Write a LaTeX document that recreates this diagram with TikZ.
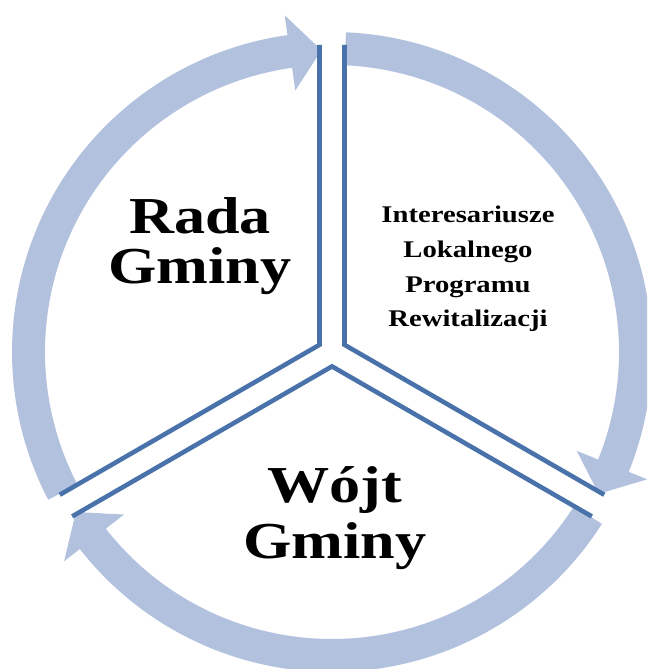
\documentclass[tikz,border=0pt]{standalone}
\usepackage{fontspec}
\setmainfont[FakeStretch=1.2]{Liberation Serif}
\usetikzlibrary{calc}
\definecolor{RingBlue}{HTML}{B2C1DD}
\definecolor{EdgeBlue}{HTML}{4A72AA}

\begin{document}
\begin{tikzpicture}[x=0.02cm, y=0.02cm,
    ring/.style={fill=RingBlue},
    edge/.style={draw=EdgeBlue, line width=2.6pt},
    bigtext/.style={font=\fontsize{29.5}{#1}\selectfont\bfseries, align=center, inner sep=0pt},
    smalltext/.style={font=\fontsize{13.6}{19.8}\selectfont\bfseries, align=center, inner sep=0pt}]
    \useasboundingbox (0,0) rectangle (647,669);
    \clip (0,0) rectangle (647,669);
    \coordinate (C) at (332,317);

    % Circular arrows
    \foreach \tail/\tip in {207.5/92, 87.5/-28, -32.5/-148}{
        \pgfmathsetmacro{\base}{\tip+6}
        \fill[ring] ($(C)+(\tail:320)$) arc[start angle=\tail, end angle=\base, radius=320]
            -- ($(C)+(\base:340)$) -- ($(C)+(\tip:302)$) -- ($(C)+(\base:264)$)
            -- ($(C)+(\base:287)$) arc[start angle=\base, end angle=\tail, radius=287] -- cycle;
    }

    % Sector edges
    \foreach \bis in {150, 30, 270}{
        \coordinate (v) at ($(C)+(\bis:14.4)$);
        \draw[edge] ($(v)+(\bis+60:300)$) -- (v) -- ($(v)+(\bis-60:300)$);
    }

    % Labels
    \node[bigtext=28.3] (rada) at (200,423) {Rada\\Gminy};
    \node[bigtext=32.3] (wojt) at (335,151) {Wójt\\Gminy};
    \node[smalltext] (interes) at (468,400) {Interesariusze\\Lokalnego\\Programu\\Rewitalizacji};

\end{tikzpicture}
\end{document}
